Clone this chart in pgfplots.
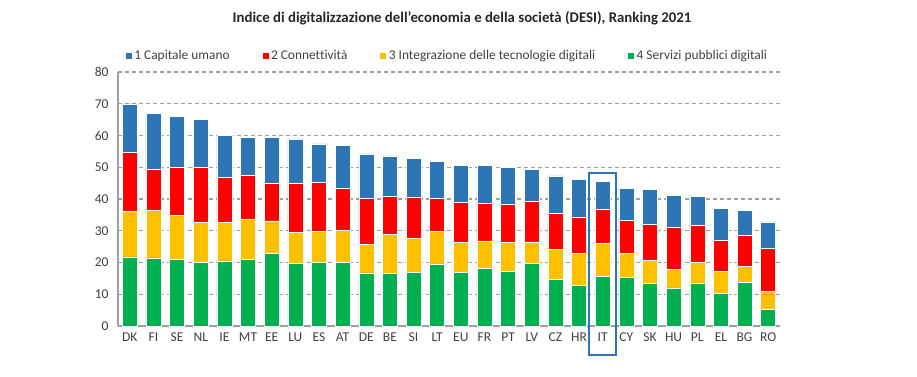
\documentclass[border=0pt]{standalone}
\usepackage{pgfplots}
\usepackage{pgfplotstable}
\pgfplotsset{compat=1.18}
\usepackage{fontspec}
\setmainfont{Carlito}[Ligatures=NoCommon]
\definecolor{cBlue}{HTML}{2E75B6}
\definecolor{cRed}{HTML}{FF0000}
\definecolor{cYellow}{HTML}{FFC000}
\definecolor{cGreen}{HTML}{00B050}
\definecolor{txt}{HTML}{404040}
\definecolor{gridc}{HTML}{A0A0A0}
\pgfplotstableread{
idx lab G Y R B
0 DK 21.8 14.3 18.6 15.3
1 FI 21.5 14.9 13.0 17.6
2 SE 21.0 13.9 15.0 16.1
3 NL 20.0 12.7 17.2 15.1
4 IE 20.5 12.2 14.2 13.2
5 MT 21.0 12.6 13.8 12.0
6 EE 22.8 10.3 12.0 14.3
7 LU 19.8 9.7 15.4 14.0
8 ES 20.1 9.8 15.4 12.1
9 AT 20.1 10.0 13.4 13.4
10 DE 16.7 9.1 14.5 13.9
11 BE 16.5 12.3 12.2 12.6
12 SI 16.9 10.6 13.2 12.2
13 LT 19.6 10.3 10.4 11.6
14 EU 16.9 9.4 12.7 11.6
15 FR 18.2 8.6 12.0 11.8
16 PT 17.2 9.1 12.2 11.4
17 LV 19.8 6.7 12.7 10.1
18 CZ 14.7 9.5 11.2 11.9
19 HR 12.9 10.0 11.5 11.7
20 IT 15.7 10.4 10.6 8.8
21 CY 15.4 7.4 10.6 10.0
22 SK 13.4 7.2 11.5 11.0
23 HU 12.0 5.8 13.3 10.1
24 PL 13.6 6.5 11.5 9.2
25 EL 10.3 7.0 9.8 10.0
26 BG 13.8 5.0 9.7 8.0
27 RO 5.3 5.6 13.6 8.3
}\data
\begin{document}
\begin{tikzpicture}[x=1bp,y=1bp]
\useasboundingbox (0,0) rectangle (917,376);
\node[font=\fontsize{14.8bp}{16bp}\selectfont\bfseries, text=black!85] at (462,358) {Indice di digitalizzazione dell'economia e della società (DESI), Ranking 2021};
\begin{axis}[
  at={(118bp,50bp)}, anchor=south west,
  scale only axis, width=662bp, height=254bp,
  xmin=-0.5, xmax=27.5, ymin=0, ymax=80,
  ybar stacked, bar width=15bp,
  xtick=data, xticklabels from table={\data}{lab},
  ytick={0,10,...,80},
  major tick length=0pt,
  ymajorgrids, major grid style={dashed, gridc, line width=1.1bp, dash pattern=on 4bp off 3bp},
  axis x line*=bottom, axis y line*=left,
  axis line style={-, draw=gridc, line width=1.2bp},
  tick label style={font=\fontsize{13.5bp}{15bp}\selectfont, text=txt},
  /pgf/number format/assume math mode=true,
  yticklabel style={xshift=-6bp},
  xticklabel style={yshift=-3bp},
  clip=false,
  legend columns=4, reverse legend,
  legend style={at={(0.497,1.063)}, anchor=center, draw=none, fill=none,
    font=\fontsize{13.4bp}{15bp}\selectfont, text=txt,
    /tikz/every even column/.append style={column sep=30bp}},
  legend image code/.code={\fill[#1] (0bp,-3.5bp) rectangle (7bp,3.5bp);},
  every axis plot/.append style={draw=white, line width=0.4bp},
]
\addplot[fill=cGreen] table[x=idx,y=G]{\data};
\addplot[fill=cYellow] table[x=idx,y=Y]{\data};
\addplot[fill=cRed] table[x=idx,y=R]{\data};
\addplot[fill=cBlue] table[x=idx,y=B]{\data};
\legend{4 Servizi pubblici digitali, 3 Integrazione delle tecnologie digitali, 2 Connettività, 1 Capitale umano}
\draw[cBlue, line width=2bp] (axis cs:19.42,48.2) rectangle (axis cs:20.58,-9.1);
\end{axis}
\end{tikzpicture}
\end{document}
